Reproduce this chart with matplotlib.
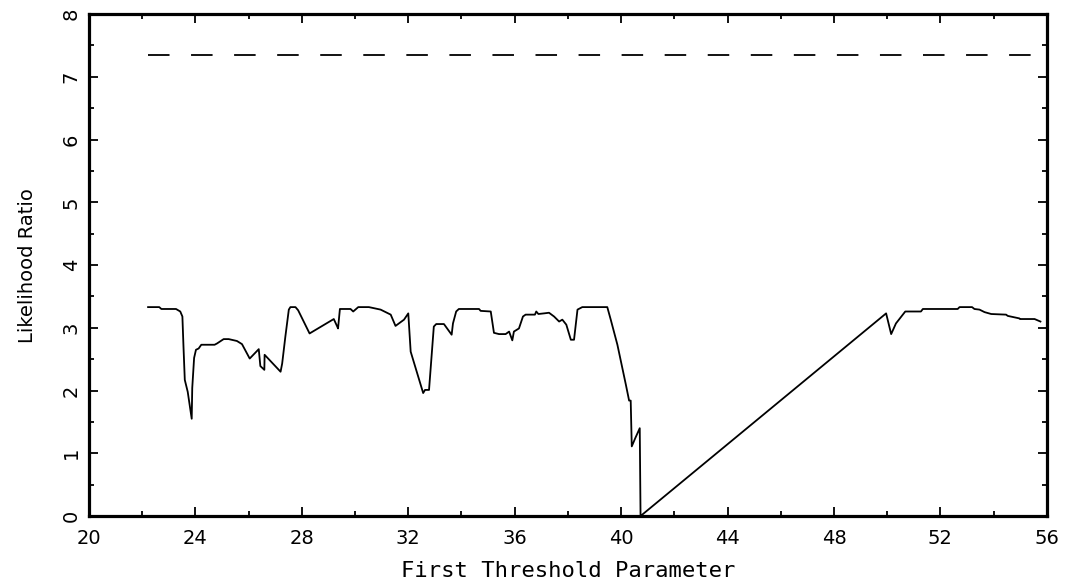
import matplotlib
matplotlib.use("Agg")
import matplotlib.pyplot as plt
from matplotlib.ticker import MultipleLocator

# ---- data ----
threshold = [22.22, 22.64, 22.72, 23.27, 23.43, 23.51, 23.55, 23.60, 23.71, 23.86,
             23.88, 23.95, 24.02, 24.12, 24.22, 24.72, 24.81, 25.06, 25.25, 25.56,
             25.75, 26.04, 26.38, 26.44, 26.59, 26.60, 27.20, 27.26, 27.38, 27.51,
             27.57, 27.76, 27.86, 28.29, 29.20, 29.33, 29.36, 29.43, 29.83, 29.93,
             30.12, 30.52, 30.96, 31.34, 31.52, 31.84, 32.00, 32.09, 32.56, 32.63,
             32.78, 32.96, 33.05, 33.34, 33.63, 33.68, 33.80, 33.90, 34.66, 34.72,
             35.10, 35.22, 35.41, 35.66, 35.79, 35.91, 35.97, 36.16, 36.31, 36.41,
             36.76, 36.81, 36.89, 37.10, 37.29, 37.48, 37.67, 37.79, 37.94, 38.11,
             38.23, 38.36, 38.54, 39.48, 39.61, 39.86, 40.18, 40.30, 40.36, 40.40,
             40.53, 40.70, 40.73, 49.96, 50.15, 50.33, 50.68, 51.27, 51.34, 52.65,
             52.72, 53.19, 53.28, 53.47, 53.66, 53.91, 54.47, 54.53, 54.97, 54.99,
             55.54, 55.76]
likelihood = [3.33, 3.33, 3.30, 3.30, 3.26, 3.18, 2.71, 2.17, 1.98, 1.55,
              2.04, 2.52, 2.65, 2.67, 2.73, 2.73, 2.75, 2.82, 2.82, 2.79,
              2.74, 2.51, 2.66, 2.39, 2.33, 2.57, 2.30, 2.43, 2.86, 3.29,
              3.33, 3.33, 3.28, 2.91, 3.14, 3.02, 2.99, 3.30, 3.30, 3.26,
              3.33, 3.33, 3.29, 3.21, 3.03, 3.13, 3.23, 2.62, 1.96, 2.01,
              2.01, 3.02, 3.06, 3.06, 2.89, 3.07, 3.26, 3.30, 3.30, 3.27,
              3.26, 2.92, 2.90, 2.90, 2.94, 2.80, 2.94, 2.99, 3.18, 3.21,
              3.21, 3.26, 3.22, 3.23, 3.24, 3.18, 3.10, 3.13, 3.05, 2.81,
              2.81, 3.29, 3.33, 3.33, 3.13, 2.73, 2.09, 1.84, 1.84, 1.11,
              1.24, 1.40, 0.00, 3.23, 2.90, 3.07, 3.26, 3.26, 3.30, 3.30,
              3.33, 3.33, 3.30, 3.29, 3.25, 3.22, 3.21, 3.19, 3.15, 3.14,
              3.14, 3.10]

critical_x = [22.2, 55.8]
critical_y = [7.35, 7.35]

x_ticks = [20, 24, 28, 32, 36, 40, 44, 48, 52, 56]
y_ticks = [0, 1, 2, 3, 4, 5, 6, 7, 8]

plt.rcParams['lines.scale_dashes'] = False
fig = plt.figure(figsize=(10.66, 5.88), dpi=100)
ax = fig.add_axes([0.0835, 0.1224, 0.8985, 0.8536])

ax.plot(threshold, likelihood, color='black', lw=1.3)
ax.plot(critical_x, critical_y, color='black', lw=1.3, dashes=(15.5, 15.5))

ax.set_xlim(20, 56)
ax.set_ylim(0, 8)
ax.set_xticks(x_ticks)
ax.set_yticks(y_ticks)
ax.xaxis.set_minor_locator(MultipleLocator(2))
ax.yaxis.set_minor_locator(MultipleLocator(0.5))

for s in ax.spines.values():
    s.set_linewidth(2.3)

ax.tick_params(which='both', direction='in', top=True, right=True, width=1.3)
ax.tick_params(which='major', length=6.5)
ax.tick_params(which='minor', length=3.5)
ax.tick_params(axis='x', which='major', labelsize=14, pad=9)
ax.tick_params(axis='y', which='major', labelsize=14, pad=6, labelrotation=90)
for lbl in ax.get_yticklabels():
    lbl.set_va('center')

ax.set_xlabel('First Threshold Parameter', fontsize=16, family='DejaVu Sans Mono', labelpad=10)
ax.set_ylabel('Likelihood Ratio', fontsize=14, labelpad=18)

fig.savefig('out.png', dpi=100)
